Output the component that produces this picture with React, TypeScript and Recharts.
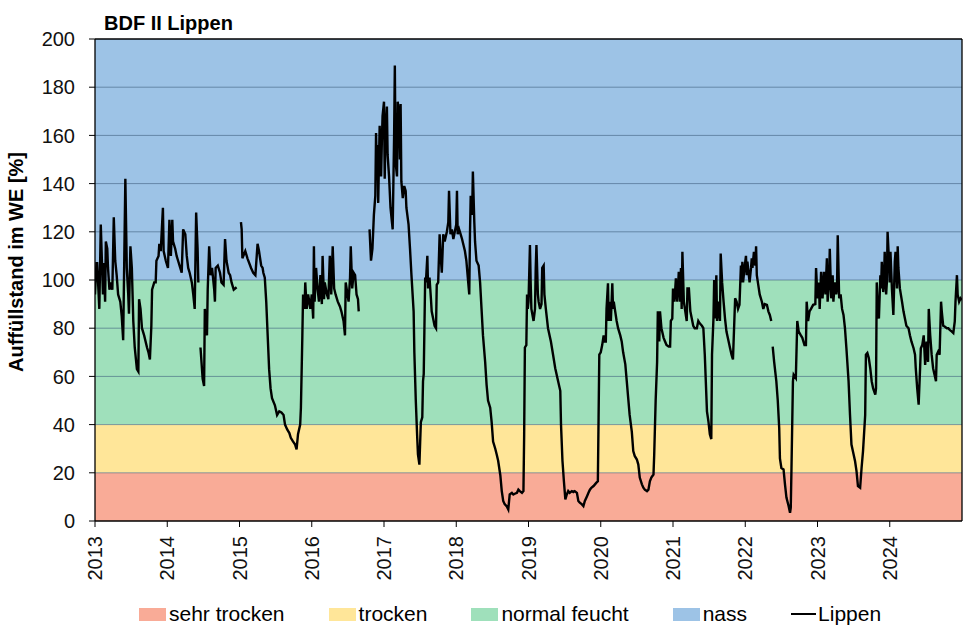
import { Line, LineChart, ReferenceArea, ReferenceLine, XAxis, YAxis } from "recharts";

const chartTitle = "BDF II Lippen";
const yAxisTitle = "Auffüllstand im WE [%]";
const seriesName = "Lippen";

const yearTicks = [2013, 2014, 2015, 2016, 2017, 2018, 2019, 2020, 2021, 2022, 2023, 2024];
const valueTicks = [0, 20, 40, 60, 80, 100, 120, 140, 160, 180, 200];

// soil moisture classes: label + lower/upper bound in %
const classLabels = ["sehr trocken", "trocken", "normal feucht", "nass"];
const classBounds = [0, 20, 40, 100, 200];

// measured series, [decimal year, fill level %], split where the record has gaps
const seg1 = [
  [2013.0, 94], [2013.02, 107], [2013.03, 107], [2013.06, 88], [2013.08, 123], [2013.11, 94],
  [2013.12, 107], [2013.14, 91], [2013.15, 116], [2013.17, 113], [2013.18, 105], [2013.2, 96],
  [2013.22, 99], [2013.24, 96], [2013.26, 126], [2013.28, 108], [2013.3, 102], [2013.32, 94],
  [2013.35, 91], [2013.37, 85], [2013.39, 75], [2013.42, 142], [2013.44, 105], [2013.46, 94],
  [2013.47, 86], [2013.49, 114], [2013.51, 105], [2013.53, 83], [2013.55, 72], [2013.58, 63],
  [2013.6, 62], [2013.61, 92], [2013.63, 88], [2013.65, 80], [2013.68, 77], [2013.72, 72],
  [2013.74, 70], [2013.76, 67], [2013.78, 81], [2013.79, 96], [2013.82, 99], [2013.84, 99],
  [2013.85, 108], [2013.88, 110], [2013.89, 115], [2013.91, 112], [2013.94, 130], [2013.95, 112],
  [2013.98, 108], [2014.01, 105], [2014.03, 125], [2014.05, 110], [2014.07, 125], [2014.08, 116],
  [2014.11, 113], [2014.13, 110], [2014.15, 108], [2014.18, 105], [2014.2, 103], [2014.22, 121],
  [2014.25, 119], [2014.27, 110], [2014.29, 105], [2014.31, 103], [2014.34, 99], [2014.36, 94],
  [2014.38, 88], [2014.4, 128], [2014.42, 113], [2014.43, 99],
];

const seg2 = [
  [2014.46, 72], [2014.49, 59], [2014.51, 56], [2014.52, 88], [2014.54, 80], [2014.55, 77],
  [2014.56, 96], [2014.58, 114], [2014.6, 102], [2014.62, 105], [2014.65, 96], [2014.66, 91],
  [2014.67, 105], [2014.7, 106], [2014.73, 103], [2014.75, 99], [2014.78, 98], [2014.8, 117],
  [2014.82, 108], [2014.85, 103], [2014.87, 102], [2014.89, 99], [2014.92, 96], [2014.96, 97],
];

const seg3 = [
  [2015.02, 124], [2015.03, 121], [2015.04, 109], [2015.08, 112], [2015.11, 109], [2015.16, 105],
  [2015.19, 103], [2015.22, 102], [2015.25, 115], [2015.27, 112], [2015.3, 106], [2015.32, 105],
  [2015.33, 103], [2015.35, 101], [2015.37, 91], [2015.39, 77], [2015.41, 63], [2015.43, 55],
  [2015.45, 51], [2015.49, 48], [2015.52, 44], [2015.55, 45.5], [2015.58, 45], [2015.61, 44],
  [2015.63, 40], [2015.66, 38], [2015.69, 36.5], [2015.71, 34.5], [2015.74, 33], [2015.77, 31.7],
  [2015.79, 29.7], [2015.81, 36], [2015.84, 40], [2015.85, 47], [2015.87, 77], [2015.88, 94],
  [2015.9, 88], [2015.91, 99], [2015.93, 88], [2015.95, 94], [2015.98, 88], [2016.0, 94],
  [2016.02, 84], [2016.03, 114], [2016.04, 91], [2016.06, 105], [2016.08, 96.5], [2016.1, 91],
  [2016.12, 102], [2016.14, 90], [2016.15, 110], [2016.17, 92], [2016.18, 99], [2016.21, 94],
  [2016.23, 92], [2016.25, 110], [2016.27, 94], [2016.29, 114], [2016.31, 96.5], [2016.33, 94],
  [2016.36, 91], [2016.39, 89], [2016.41, 87], [2016.44, 83], [2016.46, 77], [2016.47, 99],
  [2016.49, 95], [2016.51, 91], [2016.53, 101], [2016.54, 114], [2016.56, 96.5], [2016.58, 103],
  [2016.6, 102], [2016.62, 94], [2016.64, 92], [2016.65, 87],
];

const seg4 = [
  [2016.8, 121], [2016.82, 108], [2016.84, 113], [2016.86, 127], [2016.88, 135], [2016.89, 161],
  [2016.9, 146], [2016.91, 156], [2016.92, 132], [2016.93, 149], [2016.94, 164], [2016.96, 143],
  [2016.97, 157], [2016.98, 168], [2017.0, 174], [2017.01, 142], [2017.02, 160], [2017.04, 172],
  [2017.05, 152], [2017.07, 143], [2017.09, 130], [2017.11, 124], [2017.12, 121], [2017.14, 160],
  [2017.15, 189], [2017.16, 149], [2017.18, 143], [2017.19, 174], [2017.21, 168], [2017.22, 150],
  [2017.23, 173], [2017.24, 141], [2017.26, 134], [2017.28, 139], [2017.3, 137], [2017.31, 130],
  [2017.34, 123], [2017.36, 113], [2017.38, 102], [2017.41, 87], [2017.42, 70], [2017.44, 50],
  [2017.46, 34.5], [2017.47, 27.6], [2017.49, 23.4], [2017.51, 41], [2017.53, 43], [2017.54, 58],
  [2017.55, 61], [2017.57, 101], [2017.58, 99], [2017.6, 110], [2017.61, 96.5], [2017.63, 101],
  [2017.65, 92], [2017.66, 87], [2017.68, 84], [2017.7, 81], [2017.72, 80], [2017.73, 98],
  [2017.75, 99], [2017.77, 119], [2017.78, 112], [2017.8, 103], [2017.82, 119], [2017.84, 116],
  [2017.87, 120], [2017.89, 124], [2017.9, 137], [2017.92, 119], [2017.94, 121], [2017.96, 117],
  [2017.98, 120], [2018.0, 123], [2018.01, 137], [2018.02, 119], [2018.04, 121], [2018.06, 119],
  [2018.08, 117], [2018.1, 114.5], [2018.12, 112], [2018.14, 108], [2018.16, 101], [2018.18, 94],
  [2018.19, 119], [2018.2, 135], [2018.22, 127], [2018.23, 145], [2018.25, 124], [2018.26, 116],
  [2018.28, 108], [2018.31, 106], [2018.33, 99], [2018.35, 88], [2018.37, 77], [2018.4, 66],
  [2018.42, 56.5], [2018.44, 50], [2018.47, 47], [2018.49, 41], [2018.51, 33], [2018.54, 30],
  [2018.56, 27.6], [2018.58, 25], [2018.61, 19], [2018.63, 12.4], [2018.65, 8.3], [2018.67, 7],
  [2018.7, 6], [2018.72, 4.8], [2018.74, 11], [2018.77, 11.7], [2018.79, 11], [2018.81, 11.3],
  [2018.84, 11.7], [2018.86, 13], [2018.88, 12.4], [2018.91, 11.7], [2018.93, 12.4], [2018.94, 36],
  [2018.95, 72], [2018.97, 73], [2018.98, 94], [2018.99, 88], [2019.0, 91], [2019.02, 114.5],
  [2019.03, 99], [2019.04, 88], [2019.07, 83], [2019.09, 88], [2019.1, 105], [2019.11, 114.5],
  [2019.13, 94], [2019.14, 91], [2019.16, 88], [2019.18, 90], [2019.19, 105], [2019.21, 106],
  [2019.22, 94], [2019.24, 88], [2019.27, 80], [2019.31, 74.5], [2019.34, 69], [2019.37, 63.4],
  [2019.41, 58], [2019.44, 54], [2019.45, 40], [2019.47, 25], [2019.49, 16.5], [2019.51, 9],
  [2019.53, 11], [2019.55, 12.4], [2019.57, 11.7], [2019.6, 12.4], [2019.62, 12], [2019.64, 12.4],
  [2019.67, 11.7], [2019.69, 8.3], [2019.71, 7.6], [2019.74, 6.9], [2019.76, 6.2], [2019.78, 8.3],
  [2019.81, 10.3], [2019.83, 11.7], [2019.85, 13], [2019.87, 13.8], [2019.9, 14.5], [2019.92, 15.2],
  [2019.94, 15.9], [2019.96, 16.5], [2019.97, 43], [2019.98, 69], [2020.0, 70], [2020.02, 73],
  [2020.04, 77], [2020.05, 74.5], [2020.07, 74.5], [2020.08, 88], [2020.1, 98.6], [2020.11, 83],
  [2020.13, 91], [2020.14, 83], [2020.16, 98.6], [2020.17, 88], [2020.18, 91], [2020.2, 87],
  [2020.22, 83], [2020.24, 80], [2020.27, 77], [2020.29, 74.5], [2020.31, 70], [2020.34, 65],
  [2020.36, 58], [2020.38, 51], [2020.4, 44], [2020.43, 37], [2020.45, 29], [2020.47, 27],
  [2020.5, 25.5], [2020.52, 23.4], [2020.54, 18], [2020.57, 15.2], [2020.59, 13.8], [2020.61, 13],
  [2020.64, 12.4], [2020.66, 13], [2020.68, 16.5], [2020.7, 18], [2020.73, 19.3], [2020.74, 27.6],
  [2020.76, 50], [2020.78, 66], [2020.79, 87], [2020.81, 74.5], [2020.82, 87], [2020.84, 80],
  [2020.87, 76], [2020.89, 74.5], [2020.91, 73], [2020.94, 72.4], [2020.96, 72.4], [2020.97, 83],
  [2020.99, 84], [2021.0, 96.5], [2021.02, 91], [2021.04, 100.7], [2021.05, 94], [2021.06, 91],
  [2021.08, 103.4], [2021.1, 91], [2021.11, 105], [2021.12, 88], [2021.13, 111.7], [2021.15, 91],
  [2021.17, 87], [2021.19, 83], [2021.2, 96.5], [2021.22, 96.5], [2021.24, 87], [2021.26, 84],
  [2021.28, 81], [2021.3, 80], [2021.33, 80], [2021.35, 83], [2021.37, 82], [2021.4, 81],
  [2021.42, 80], [2021.44, 69], [2021.47, 45.5], [2021.49, 41.4], [2021.51, 36], [2021.53, 34],
  [2021.54, 69], [2021.56, 84], [2021.57, 100], [2021.58, 84], [2021.6, 102], [2021.61, 83],
  [2021.63, 91], [2021.65, 83], [2021.66, 111], [2021.68, 99], [2021.7, 91], [2021.72, 84],
  [2021.74, 78.6], [2021.77, 74.5], [2021.79, 71.7], [2021.81, 69], [2021.83, 67], [2021.86, 92.4],
  [2021.88, 91], [2021.9, 88], [2021.92, 89.7], [2021.94, 106], [2021.95, 99], [2021.96, 107.6],
  [2021.97, 99], [2021.99, 105], [2022.01, 110], [2022.02, 102], [2022.03, 107.6], [2022.06, 99],
  [2022.08, 105], [2022.09, 109], [2022.1, 105], [2022.12, 111.7], [2022.14, 106], [2022.15, 114],
  [2022.16, 102], [2022.18, 98], [2022.2, 94], [2022.23, 91], [2022.25, 88], [2022.27, 90],
  [2022.3, 89.7], [2022.32, 87], [2022.34, 85.5], [2022.36, 83],
];

const seg5 = [
  [2022.38, 72.4], [2022.4, 66], [2022.43, 58], [2022.45, 50], [2022.47, 38.6], [2022.48, 26],
  [2022.5, 22], [2022.53, 21.4], [2022.55, 15.2], [2022.57, 9.7], [2022.6, 6.2], [2022.62, 3.4],
  [2022.63, 5.5], [2022.64, 22], [2022.66, 58], [2022.67, 60.7], [2022.7, 59.3], [2022.72, 83],
  [2022.74, 78.6], [2022.77, 77], [2022.79, 76], [2022.82, 73], [2022.84, 73], [2022.85, 91],
  [2022.87, 83], [2022.89, 87], [2022.91, 88], [2022.94, 89.7], [2022.97, 90], [2022.98, 105],
  [2023.0, 92.4], [2023.02, 99], [2023.03, 88], [2023.05, 103.4], [2023.07, 92.4], [2023.09, 103.4],
  [2023.11, 94], [2023.13, 109], [2023.14, 91], [2023.16, 99], [2023.17, 113], [2023.19, 92.4],
  [2023.21, 102], [2023.22, 91], [2023.24, 99], [2023.26, 94], [2023.27, 96.5], [2023.28, 118.6],
  [2023.3, 92.4], [2023.32, 94], [2023.34, 88], [2023.36, 85.5], [2023.38, 80], [2023.4, 71.7],
  [2023.43, 58], [2023.45, 44], [2023.47, 31.7], [2023.5, 27.6], [2023.52, 24.8], [2023.54, 20.7],
  [2023.56, 14.5], [2023.59, 13.8], [2023.61, 22], [2023.63, 29], [2023.66, 44], [2023.67, 69],
  [2023.69, 69.7], [2023.71, 67.6], [2023.73, 63.4], [2023.75, 58], [2023.77, 55], [2023.8, 52.4],
  [2023.81, 55], [2023.82, 99], [2023.83, 91], [2023.85, 84], [2023.87, 102], [2023.88, 96.5],
  [2023.89, 107.6], [2023.91, 95], [2023.92, 99], [2023.93, 111.7], [2023.95, 94], [2023.96, 99],
  [2023.97, 120], [2023.99, 107.6], [2024.0, 99], [2024.01, 111.7], [2024.03, 96.5], [2024.04, 91],
  [2024.05, 85.5], [2024.07, 107.6], [2024.08, 111.7], [2024.1, 96.5], [2024.11, 114], [2024.12, 105],
  [2024.14, 96.5], [2024.17, 91], [2024.19, 87], [2024.21, 84], [2024.23, 81], [2024.26, 80],
  [2024.28, 77], [2024.3, 74.5], [2024.33, 71.7], [2024.35, 69], [2024.36, 63.4], [2024.38, 55],
  [2024.4, 48.3], [2024.42, 63.4], [2024.43, 71.7], [2024.45, 73], [2024.47, 77], [2024.49, 64.8],
  [2024.51, 74.5], [2024.53, 66], [2024.54, 88], [2024.56, 77], [2024.58, 69], [2024.6, 63.4],
  [2024.62, 60.7], [2024.64, 58], [2024.65, 69], [2024.67, 70.3], [2024.69, 69], [2024.71, 91],
  [2024.72, 87], [2024.74, 81], [2024.76, 80.7], [2024.79, 80], [2024.81, 80], [2024.83, 79.3],
  [2024.86, 78.6], [2024.88, 78], [2024.9, 82.8], [2024.91, 91], [2024.93, 102], [2024.94, 94],
  [2024.96, 91], [2024.98, 92.4], [2025.0, 91.7],
];

const segments = [seg1, seg2, seg3, seg4, seg5];

// null row after each segment so the line breaks at the gaps
const data = segments.flatMap((seg, i) => {
  const rows: { t: number; v: number | null }[] = seg.map(([t, v]) => ({ t, v }));
  if (i < segments.length - 1) rows.push({ t: seg[seg.length - 1][0] + 0.005, v: null });
  return rows;
});

const CLASS_FILLS = ["#F9AB97", "#FFE699", "#9FE0BB", "#9DC3E6"];
const FONT = "'Liberation Sans', Arial, sans-serif";

function YearTick(props: any) {
  const { x, y, payload } = props;
  return (
    <text
      x={x}
      y={y}
      transform={`rotate(-90, ${x}, ${y})`}
      textAnchor="end"
      dy="0.36em"
      fontSize={20}
      fill="#111"
      fontFamily={FONT}
    >
      {payload.value}
    </text>
  );
}

export default function App() {
  return (
    <div
      style={{
        position: "absolute",
        left: 0,
        top: 0,
        width: 977,
        height: 631,
        background: "#fff",
        fontFamily: FONT,
        color: "#000",
      }}
    >
      <LineChart
        width={977}
        height={631}
        data={data}
        margin={{ top: 39, right: 15, bottom: 45, left: 0 }}
      >
        {classLabels.map((label, i) => (
          <ReferenceArea
            key={label}
            y1={classBounds[i]}
            y2={classBounds[i + 1]}
            fill={CLASS_FILLS[i]}
            fillOpacity={1}
            stroke="none"
            ifOverflow="hidden"
          />
        ))}
        {valueTicks.slice(1, -1).map((v) => (
          <ReferenceLine key={v} y={v} stroke="#3f5f7f" strokeOpacity={0.6} strokeWidth={1} />
        ))}
        <ReferenceLine y={200} stroke="#000" strokeWidth={1.3} />
        <ReferenceLine x={2025} stroke="#000" strokeWidth={1.3} />

        <XAxis
          dataKey="t"
          type="number"
          scale="linear"
          domain={[2013, 2025]}
          ticks={yearTicks}
          allowDataOverflow
          height={65}
          tickSize={6}
          tickMargin={9}
          tick={<YearTick />}
          axisLine={{ stroke: "#000", strokeWidth: 1.3 }}
          tickLine={{ stroke: "#000" }}
          interval={0}
        />
        <YAxis
          type="number"
          domain={[0, 200]}
          ticks={valueTicks}
          width={95}
          tickSize={6}
          tickMargin={14}
          interval={0}
          axisLine={{ stroke: "#000", strokeWidth: 1.3 }}
          tickLine={{ stroke: "#000" }}
          tick={{ fill: "#111", fontSize: 20, fontFamily: FONT }}
        />
        <Line
          type="linear"
          dataKey="v"
          name={seriesName}
          stroke="#000"
          strokeWidth={2.4}
          dot={false}
          activeDot={false}
          connectNulls={false}
          isAnimationActive={false}
        />
      </LineChart>

      <div
        style={{
          position: "absolute",
          left: 104,
          top: 13,
          fontSize: 20,
          lineHeight: "20px",
          fontWeight: "bold",
          whiteSpace: "nowrap",
        }}
      >
        {chartTitle}
      </div>

      <div
        style={{
          position: "absolute",
          left: 16,
          top: 262,
          transform: "translate(-50%, -50%) rotate(-90deg)",
          fontSize: 20,
          lineHeight: "20px",
          fontWeight: "bold",
          whiteSpace: "nowrap",
        }}
      >
        {yAxisTitle}
      </div>

      <div
        style={{
          position: "absolute",
          left: 139,
          top: 602,
          display: "flex",
          alignItems: "center",
          gap: 44,
          fontSize: 21,
          lineHeight: "24px",
          whiteSpace: "nowrap",
        }}
      >
        {classLabels.map((label, i) => (
          <div key={label} style={{ display: "flex", alignItems: "center" }}>
            <span style={{ width: 27, height: 13, background: CLASS_FILLS[i], marginRight: 3 }} />
            <span>{label}</span>
          </div>
        ))}
        <div style={{ display: "flex", alignItems: "center" }}>
          <span style={{ width: 25, height: 2, background: "#000", marginRight: 2 }} />
          <span>{seriesName}</span>
        </div>
      </div>
    </div>
  );
}
